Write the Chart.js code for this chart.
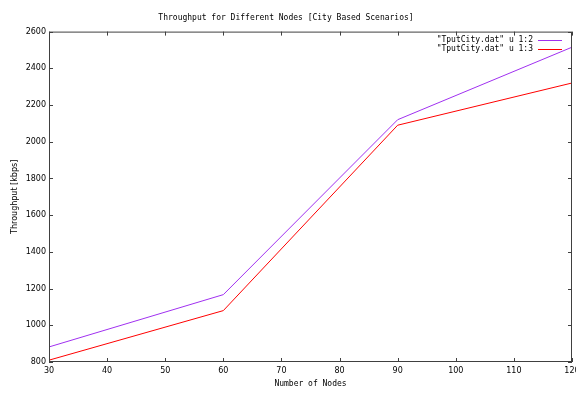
<!DOCTYPE html>
<html>
<head>
<meta charset="utf-8">
<script src="https://cdn.jsdelivr.net/npm/chart.js@4"></script>
<style>
  html, body { margin: 0; padding: 0; background: #fff; overflow: hidden; }
  #wrap { width: 576px; height: 394px; overflow: hidden; position: relative; }
</style>
</head>
<body>
<div id="wrap"><canvas id="chart" width="590" height="394"></canvas></div>
<script>
const nodes = [30, 60, 90, 120];
const tputCol2 = [882, 1167, 2120, 2515];
const tputCol3 = [810, 1080, 2090, 2320];
const seriesLabels = ['"TputCity.dat" u 1:2', '"TputCity.dat" u 1:3'];
const seriesColors = ['#a030f0', '#ff0000'];

const MONO = '"DejaVu Sans Mono", "Liberation Mono", monospace';
const SANS = '"DejaVu Sans", sans-serif';
const FRAME = '#404040';
const TICK_LEN = 4;

const toPoints = (values) => values.map((v, i) => ({x: nodes[i], y: v}));
const plainNumber = (v) => String(v);

// gnuplot style frame: inward ticks mirrored on all four sides
const frameTicks = {
  id: 'frameTicks',
  afterDraw(chart) {
    const {ctx, chartArea: a, scales} = chart;
    ctx.save();
    ctx.strokeStyle = FRAME;
    ctx.lineWidth = 1;
    ctx.strokeRect(a.left + 0.5, a.top + 0.5, a.right - a.left - 1, a.bottom - a.top - 1);
    ctx.beginPath();
    scales.x.ticks.forEach((t) => {
      const px = Math.round(scales.x.getPixelForValue(t.value)) + 0.5;
      ctx.moveTo(px, a.bottom);
      ctx.lineTo(px, a.bottom - TICK_LEN);
      ctx.moveTo(px, a.top);
      ctx.lineTo(px, a.top + TICK_LEN);
    });
    scales.y.ticks.forEach((t) => {
      const py = Math.round(scales.y.getPixelForValue(t.value)) + 0.5;
      ctx.moveTo(a.left, py);
      ctx.lineTo(a.left + TICK_LEN, py);
      ctx.moveTo(a.right, py);
      ctx.lineTo(a.right - TICK_LEN, py);
    });
    ctx.stroke();
    ctx.restore();
  }
};

// key inside the top right corner, text then sample line
const insideKey = {
  id: 'insideKey',
  afterDraw(chart) {
    const {ctx, chartArea: a} = chart;
    ctx.save();
    ctx.font = '8px ' + MONO;
    ctx.textAlign = 'right';
    ctx.textBaseline = 'middle';
    chart.data.datasets.forEach((ds, i) => {
      const y = a.top + 8 + i * 9;
      ctx.fillStyle = '#000';
      ctx.fillText(ds.label, a.right - 39, y);
      ctx.strokeStyle = seriesColors[i];
      ctx.lineWidth = 1;
      ctx.beginPath();
      ctx.moveTo(a.right - 34, Math.round(y) + 0.5);
      ctx.lineTo(a.right - 10, Math.round(y) + 0.5);
      ctx.stroke();
    });
    ctx.restore();
  }
};

new Chart(document.getElementById('chart'), {
  type: 'line',
  data: {
    datasets: [
      {label: seriesLabels[0], data: toPoints(tputCol2), borderColor: seriesColors[0], borderWidth: 1},
      {label: seriesLabels[1], data: toPoints(tputCol3), borderColor: seriesColors[1], borderWidth: 1}
    ]
  },
  options: {
    responsive: false,
    animation: false,
    devicePixelRatio: 1,
    elements: {point: {radius: 0}, line: {tension: 0}},
    layout: {padding: {left: 0, right: 18, top: 0, bottom: 0}},
    plugins: {
      legend: {display: false},
      tooltip: {enabled: false},
      title: {
        display: true,
        text: 'Throughput for Different Nodes [City Based Scenarios]',
        color: '#000',
        font: {family: MONO, size: 8, weight: 'normal'},
        padding: {top: 13, bottom: 9}
      }
    },
    scales: {
      x: {
        type: 'linear',
        min: 30,
        max: 120,
        ticks: {stepSize: 10, color: '#000', font: {family: SANS, size: 8}, padding: 4, maxRotation: 0, callback: plainNumber},
        grid: {display: false, drawTicks: false},
        border: {display: false},
        title: {display: true, text: 'Number of Nodes', color: '#000', font: {family: MONO, size: 8}, padding: {top: 0, bottom: 5}},
        afterFit: (s) => { s.height = 32; }
      },
      y: {
        min: 800,
        max: 2600,
        ticks: {stepSize: 200, color: '#000', font: {family: SANS, size: 8}, padding: 3, callback: plainNumber},
        grid: {display: false, drawTicks: false},
        border: {display: false},
        title: {display: true, text: 'Throughput [kbps]', color: '#000', font: {family: SANS, size: 8}, padding: {top: 10, bottom: 0}},
        afterFit: (s) => { s.width = 49; }
      }
    }
  },
  plugins: [frameTicks, insideKey]
});
</script>
</body>
</html>
